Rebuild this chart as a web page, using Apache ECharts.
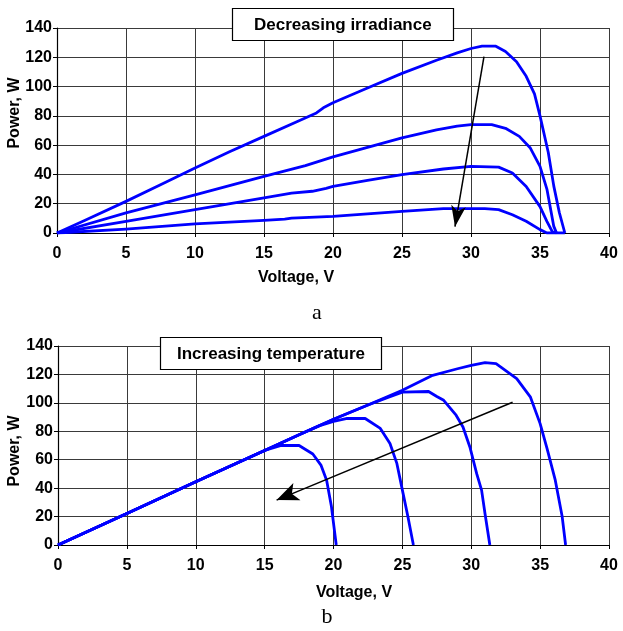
<!DOCTYPE html>
<html>
<head>
<meta charset="utf-8">
<script src="https://cdn.jsdelivr.net/npm/echarts@6/dist/echarts.min.js"></script>
<style>
  html, body { margin: 0; padding: 0; background: #fff; }
  #chart { width: 623px; height: 631px; }
</style>
</head>
<body>
<div id="chart"></div>
<script>
// voltage (V), power (W) pairs
// a: decreasing irradiance
var irr1 = [[0,0],[2,8.5],[5,21.6],[7.5,33],[10,44.4],[12.5,55.5],[15,66],[17.5,76.5],[18.8,82],[19.3,85.5],[20,89],[22.5,99],[25,109],[27.5,118],[29,123],[30,126],[30.8,127.6],[31.8,127.6],[32.5,124],[33.3,117],[34,107],[34.6,95],[35,80],[35.6,55],[36,32],[36.4,14],[36.8,0]];
var irr2 = [[0,0],[5,13.7],[10,26],[15,38.7],[18,46],[20,52],[22.5,58.5],[25,65],[27.5,70.5],[29,73],[30,74],[31.5,74],[32.5,71.5],[33.5,66],[34.3,58],[35,45.5],[35.5,30],[36,4.5],[36.2,0]];
var irr3 = [[0,0],[5,8],[10,16],[15,24],[17,27.3],[18.5,28.5],[19.5,30.5],[20,31.8],[22.5,36],[25,39.8],[28,43.7],[30,45.5],[32,45],[33,41],[34,31.8],[35,18],[35.5,8],[35.9,0.8],[36.2,0]];
var irr4 = [[0,0],[5,2.7],[10,6.3],[15,8.6],[16.5,9.5],[17,10.2],[20,11.4],[22.5,13],[25,14.8],[28,16.6],[31,16.6],[32,16],[33,12.5],[34,8],[35,2.3],[35.5,0],[36.8,0]];

// b: increasing temperature
var temp1 = [[0,0],[5,22.2],[10,44.5],[15,66.5],[16.2,70],[17.5,70],[18.5,64],[19.1,56],[19.5,45.6],[19.85,27],[20.2,0]];
var temp2 = [[0,0],[5,22.2],[10,44.5],[15,66.5],[17.5,77.5],[19,84],[20,87],[21,89],[22.3,89],[23.4,82],[24.1,71.4],[24.6,57.4],[25.05,36.3],[25.4,20],[25.8,0]];
var temp3 = [[0,0],[5,22.2],[10,44.5],[15,66.5],[17.5,77.5],[20,88.5],[22.5,98.5],[24,104],[25,107.5],[26.9,108],[27.5,104.5],[28,101.8],[28.9,91.3],[29.4,83],[29.9,69],[30.4,50],[30.75,38.6],[31,22],[31.35,0]];
var temp4 = [[0,0],[5,22.2],[10,44.5],[15,66.5],[17.5,77.5],[20,88.5],[22.5,98.5],[25,108.8],[27.2,119.4],[29,124],[30,126.4],[31,128.3],[31.8,127.6],[33.3,117],[34.3,104],[35,85.4],[35.5,68],[36.1,45.6],[36.6,20],[36.85,0]];

// arrows: [start, end] in data units
var arrowA = [[30.94,120.4],[28.84,4.3]];
var arrowB = [[33.0,100.4],[15.87,31.6]];

var titles = ['Decreasing irradiance', 'Increasing temperature'];
var xName = 'Voltage, V';
var yName = 'Power, W';

var blue = '#0000ff';
var font = 'Arial, "Liberation Sans", sans-serif';

function axisX(gi) {
  return {
    type: 'value', gridIndex: gi, min: 0, max: 40, interval: 5,
    axisLine: { show: true, lineStyle: { color: '#000', width: 1.2 } },
    axisTick: { show: true, length: 4, lineStyle: { color: '#000' } },
    axisLabel: { margin: 13, color: '#000', fontWeight: 'bold', fontSize: 16, fontFamily: font },
    splitLine: { show: true, lineStyle: { color: '#3a3a3a', width: 1 } }
  };
}
function axisY(gi) {
  return {
    type: 'value', gridIndex: gi, min: 0, max: 140, interval: 20,
    axisLine: { show: true, lineStyle: { color: '#000', width: 1.2 } },
    axisTick: { show: true, length: 4, lineStyle: { color: '#000' } },
    axisLabel: { margin: 5, color: '#000', fontWeight: 'bold', fontSize: 16, fontFamily: font },
    splitLine: { show: true, lineStyle: { color: '#3a3a3a', width: 1 } }
  };
}
function curve(data, gi, arrow, headSize) {
  var s = {
    type: 'line', data: data, xAxisIndex: gi, yAxisIndex: gi,
    showSymbol: false, smooth: false,
    lineStyle: { color: blue, width: 2.8, join: 'round' }, itemStyle: { color: blue },
    silent: true, z: 3
  };
  if (arrow) {
    s.markLine = {
      silent: true, animation: false,
      symbol: ['none', 'arrow'],
      label: { show: false },
      lineStyle: { color: '#000', width: 1.5, type: 'solid' },
      data: [[
        { coord: arrow[0], symbol: 'none' },
        { coord: arrow[1], symbol: 'arrow', symbolSize: headSize }
      ]]
    };
  }
  return s;
}
function boxTitle(text, left, top, padX) {
  return {
    text: text, left: left, top: top,
    padding: [8, padX, 7, padX],
    backgroundColor: '#fff', borderColor: '#000', borderWidth: 1.2,
    textStyle: { color: '#000', fontWeight: 'bold', fontSize: 17, fontFamily: font, lineHeight: 18 }
  };
}

var chart = echarts.init(document.getElementById('chart'));
chart.setOption({
  animation: false,
  backgroundColor: '#fff',
  title: [
    boxTitle(titles[0], 232, 8, 22),
    boxTitle(titles[1], 160, 337, 17)
  ],
  grid: [
    { left: 57, right: 14, top: 28, height: 205 },
    { left: 58, right: 14, top: 346, height: 199 }
  ],
  xAxis: [axisX(0), axisX(1)],
  yAxis: [axisY(0), axisY(1)],
  series: [
    curve(irr1, 0, arrowA, [11, 21]), curve(irr2, 0), curve(irr3, 0), curve(irr4, 0),
    curve(temp4, 1, arrowB, [14, 22]), curve(temp3, 1), curve(temp2, 1), curve(temp1, 1)
  ],
  graphic: [
    { type: 'text', style: { text: xName, x: 296, y: 278, textAlign: 'center', textVerticalAlign: 'middle', font: 'bold 16px ' + font, fill: '#000' } },
    { type: 'text', style: { text: xName, x: 354, y: 593, textAlign: 'center', textVerticalAlign: 'middle', font: 'bold 16px ' + font, fill: '#000' } },
    { type: 'text', x: 15, y: 113, rotation: Math.PI / 2, style: { text: yName, x: 0, y: 0, textAlign: 'center', textVerticalAlign: 'middle', font: 'bold 16px ' + font, fill: '#000' } },
    { type: 'text', x: 15, y: 451, rotation: Math.PI / 2, style: { text: yName, x: 0, y: 0, textAlign: 'center', textVerticalAlign: 'middle', font: 'bold 16px ' + font, fill: '#000' } },
    { type: 'text', style: { text: 'a', x: 317, y: 313, textAlign: 'center', textVerticalAlign: 'middle', font: '22px "Liberation Serif", "Times New Roman", serif', fill: '#000' } },
    { type: 'text', style: { text: 'b', x: 327, y: 628, textAlign: 'center', textVerticalAlign: 'bottom', font: '22px "Liberation Serif", "Times New Roman", serif', fill: '#000' } }
  ]
});
</script>
</body>
</html>
